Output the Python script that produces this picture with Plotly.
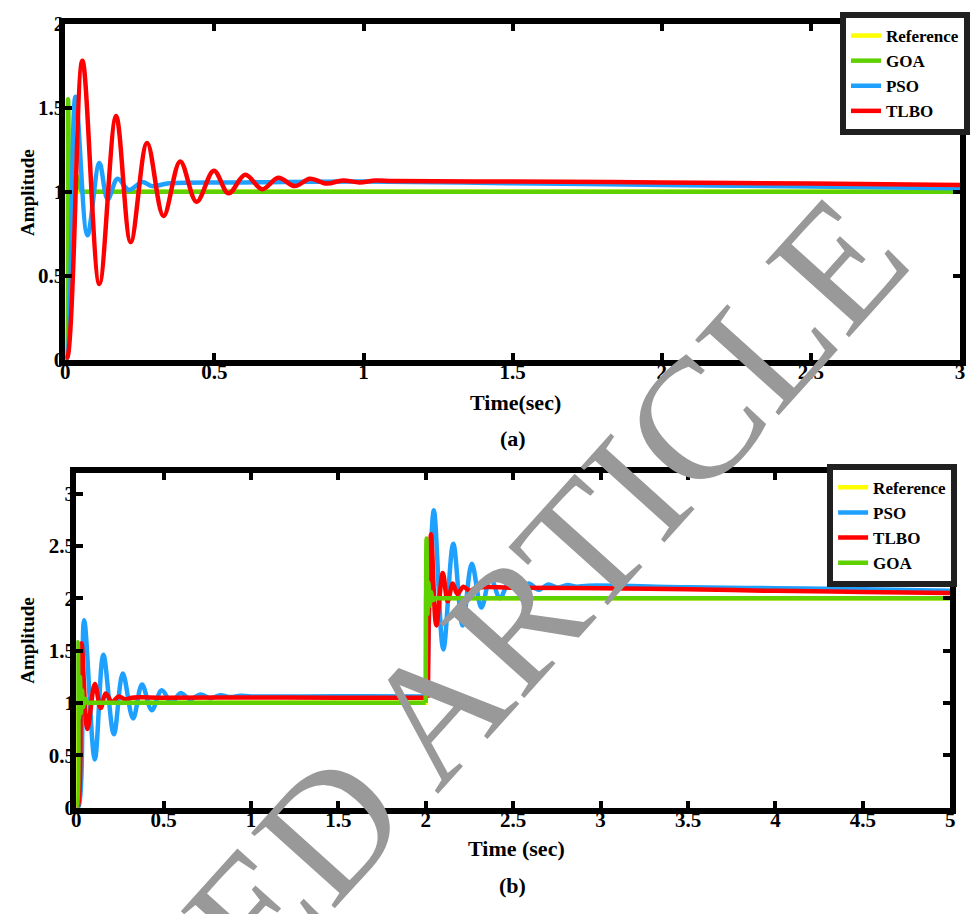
import plotly.graph_objects as go

W, H = 973, 914

# ---------------- (a) step response ----------------
t_ref_a = [0, 0, 3.0]
y_ref_a = [0, 1.0, 1.0]

t_goa_a = [0, 0.002, 0.009, 0.018, 0.035, 0.055, 0.07, 0.1, 2.9, 3.0]
y_goa_a = [0, 0.0, 1.55, 0.95, 1.10, 1.0, 1.0, 1.0, 1.0, 1.0]

t_pso_a = [0, 0.004, 0.034, 0.074, 0.114, 0.142, 0.175, 0.213, 0.258, 0.29,
           0.35, 0.6, 1.0, 1.5, 2.0, 2.5, 3.0]
y_pso_a = [0, 0.0, 1.565, 0.74, 1.17, 0.955, 1.077, 1.01, 1.058, 1.033,
           1.05, 1.055, 1.06, 1.05, 1.04, 1.03, 1.02]

t_tlbo_a = [0, 0.008, 0.057, 0.114, 0.170, 0.219, 0.274, 0.329, 0.385, 0.44,
            0.498, 0.547, 0.603, 0.66, 0.714, 0.769, 0.82, 0.876, 0.93, 0.986,
            1.04, 1.1, 1.5, 2.0, 2.5, 3.0]
y_tlbo_a = [0, 0.02, 1.78, 0.45, 1.45, 0.70, 1.29, 0.855, 1.18, 0.94,
            1.125, 0.99, 1.10, 1.015, 1.083, 1.033, 1.077, 1.048, 1.067, 1.055,
            1.066, 1.063, 1.06, 1.055, 1.048, 1.04]

# ---------------- (b) two-step response ----------------
t_ref_b = [0, 0, 2.0, 2.0, 5.0]
y_ref_b = [0, 1.0, 1.0, 2.0, 2.0]

t_pso_b = [0, 0.012, 0.045, 0.106, 0.155, 0.215, 0.266, 0.325, 0.376, 0.432,
           0.489, 0.546, 0.596, 0.652, 0.71, 0.766, 0.824, 0.88, 0.94, 1.0,
           1.5, 1.95, 2.008, 2.046, 2.10, 2.157, 2.21, 2.263, 2.318, 2.37,
           2.424, 2.478, 2.532, 2.588, 2.645, 2.70, 2.755, 2.81, 2.865, 2.93,
           3.5, 4.0, 4.5, 5.0]
y_pso_b = [0, 0.0, 1.79, 0.46, 1.46, 0.70, 1.28, 0.85, 1.175, 0.93,
           1.12, 1.0, 1.093, 1.035, 1.08, 1.045, 1.073, 1.055, 1.068, 1.062,
           1.063, 1.062, 1.062, 2.84, 1.51, 2.52, 1.74, 2.33, 1.91, 2.20,
           2.0, 2.16, 2.05, 2.14, 2.08, 2.13, 2.10, 2.125, 2.11, 2.12,
           2.105, 2.095, 2.085, 2.072]

t_tlbo_b = [0, 0.008, 0.03, 0.064, 0.106, 0.14, 0.168, 0.205, 0.243, 0.28,
            0.32, 0.5, 1.0, 1.5, 1.95, 2.012, 2.03, 2.06, 2.097, 2.125,
            2.154, 2.18, 2.215, 2.25, 2.29, 2.5, 3.0, 3.5, 4.0, 4.5, 5.0]
y_tlbo_b = [0, 0.0, 1.57, 0.75, 1.18, 0.95, 1.09, 1.01, 1.06, 1.035,
            1.05, 1.05, 1.052, 1.05, 1.048, 1.048, 2.61, 1.74, 2.24, 1.97,
            2.14, 2.04, 2.11, 2.07, 2.10, 2.10, 2.095, 2.085, 2.07, 2.06, 2.05]

t_goa_b = [0, 0.004, 0.009, 0.015, 0.021, 0.027, 0.033, 0.04, 0.05, 0.065,
           0.08, 0.12, 1.95, 1.999, 2.004, 2.009, 2.015, 2.022, 2.03, 2.04,
           2.055, 2.07, 2.1, 4.9, 5.0]
y_goa_b = [0, 0.0, 1.58, 0.85, 1.25, 0.90, 1.12, 0.96, 1.04, 1.0,
           1.0, 1.0, 1.0, 1.0, 2.57, 1.85, 2.15, 1.93, 2.06, 1.98,
           2.0, 2.0, 2.0, 2.0, 2.0]

# corner time where each (b) response leaves the first plateau
split_b = {"PSO": 2.008, "TLBO": 2.012, "GOA": 1.999}

COLORS = {"Reference": "#FFFF00", "GOA": "#5FD000", "PSO": "#1EA0FF", "TLBO": "#FF0000"}
FONT = "Liberation Serif"
LW = 4.5

fig = go.Figure()


def add_curve(name, t, y, xa, ya, legend, shape="spline", show=True):
    fig.add_trace(go.Scatter(
        x=t, y=y, mode="lines", name=name, legendgroup=legend + name,
        showlegend=show, legend=legend, xaxis=xa, yaxis=ya,
        line=dict(color=COLORS[name], width=LW, shape=shape, smoothing=1.0),
    ))


def add_split(name, t, y, t_split, xa, ya, legend):
    k = t.index(t_split)
    add_curve(name, t[:k + 1], y[:k + 1], xa, ya, legend)
    add_curve(name, t[k:], y[k:], xa, ya, legend, show=False)


# panel (a)
add_curve("Reference", t_ref_a, y_ref_a, "x", "y", "legend", shape="linear")
add_curve("GOA", t_goa_a, y_goa_a, "x", "y", "legend")
add_curve("PSO", t_pso_a, y_pso_a, "x", "y", "legend")
add_curve("TLBO", t_tlbo_a, y_tlbo_a, "x", "y", "legend")

# panel (b)
add_curve("Reference", t_ref_b, y_ref_b, "x2", "y2", "legend2", shape="linear")
add_split("PSO", t_pso_b, y_pso_b, split_b["PSO"], "x2", "y2", "legend2")
add_split("TLBO", t_tlbo_b, y_tlbo_b, split_b["TLBO"], "x2", "y2", "legend2")
add_split("GOA", t_goa_b, y_goa_b, split_b["GOA"], "x2", "y2", "legend2")


def px_x(p):
    return p / W


def px_y(p):
    return 1 - p / H


tickfont = dict(family=FONT, size=21, color="black", weight="bold")
axis_common = dict(
    showline=True, linewidth=6, linecolor="black", mirror="ticks",
    ticks="inside", ticklen=7, tickwidth=4, tickcolor="black",
    showgrid=False, zeroline=False, tickfont=tickfont, dtick=0.5, tick0=0,
)

legend_common = dict(
    xanchor="right", yanchor="top", bgcolor="white", bordercolor="#202020",
    borderwidth=6, font=dict(family=FONT, size=17, color="black", weight="bold"),
    tracegroupgap=0, itemwidth=30,
)

fig.update_layout(
    width=W, height=H,
    margin=dict(l=0, r=0, t=0, b=0),
    paper_bgcolor="white", plot_bgcolor="white",
    xaxis=dict(domain=[px_x(61), px_x(965)], range=[0, 3], anchor="y",
               ticklabelstandoff=-12, **axis_common),
    yaxis=dict(domain=[px_y(357), px_y(12)], range=[0, 2], anchor="x",
               ticklabelstandoff=-9, **axis_common),
    xaxis2=dict(domain=[px_x(72), px_x(955)], range=[0, 5], anchor="y2",
                ticklabelstandoff=-12, **axis_common),
    yaxis2=dict(domain=[px_y(817), px_y(473)], range=[0, 3.2], anchor="x2",
                ticklabelstandoff=-9, **axis_common),
    legend=dict(x=px_x(975), y=px_y(0), **legend_common),
    legend2=dict(x=px_x(962), y=px_y(464), **legend_common),
)

bold = lambda s: dict(family=FONT, size=s, color="black", weight="bold")
labels = [
    ("Amplitude", 22, 185, -90, 19),
    ("Time(sec)", 516, 401, 0, 22),
    ("(a)", 513, 438, 0, 22),
    ("Amplitude", 22, 645, -90, 19),
    ("Time (sec)", 517, 859, 0, 22),
    ("(b)", 513, 897, 0, 22),
]
for text, x, y, ang, size in labels:
    fig.add_annotation(text=text, x=px_x(x), y=px_y(y), xref="paper", yref="paper",
                       showarrow=False, textangle=ang, font=bold(size),
                       xanchor="center", yanchor="middle")

# diagonal watermark across both panels
fig.add_annotation(text="RETRACTED ARTICLE", x=px_x(281), y=px_y(890),
                   xref="paper", yref="paper", showarrow=False, textangle=-48,
                   font=dict(family=FONT, size=172, color="#999999"),
                   xanchor="center", yanchor="middle")

fig.write_html("out.html")
